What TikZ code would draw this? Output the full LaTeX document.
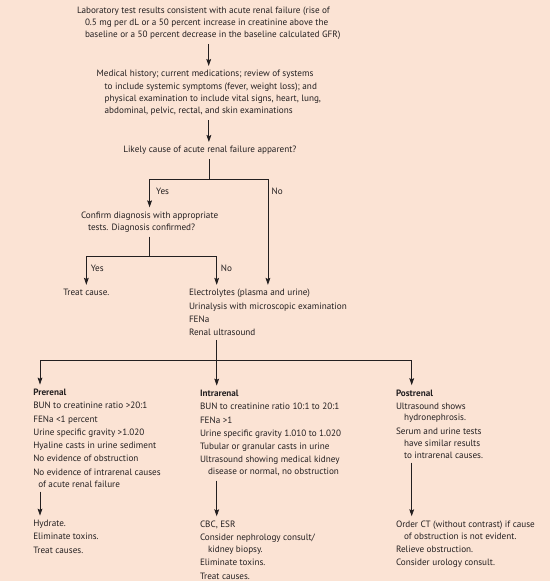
\documentclass[tikz,border=0pt]{standalone}
\usepackage{fontspec}
\setmainfont{PT Sans}
\usetikzlibrary{arrows.meta, positioning}
\definecolor{peach}{RGB}{251,227,212}
\definecolor{ink}{RGB}{35,31,32}

\begin{document}
\begin{tikzpicture}[x=1bp, y=-1bp,
  txt/.style={anchor=base west, inner sep=0pt, outer sep=4.5pt, align=left, text=ink, xshift=-4.5pt},
  top/.style={txt, font=\fontsize{9.2}{12}\selectfont},
  low/.style={txt, font=\fontsize{9.2}{13.3}\selectfont},
  lbl/.style={anchor=base west, inner sep=0pt, text=ink, font=\fontsize{9.2}{12}\selectfont},
  arr/.style={-{Stealth[length=7pt,width=4.8pt,inset=1.2pt]}, line width=0.8pt, draw=ink}]
\fill[peach] (0,0) rectangle (550,581);
\useasboundingbox (0,0) rectangle (550,581);

\node[top] (lab) at (77,37.3) {Laboratory test results consistent with acute renal failure (rise of\\
  \hspace*{8bp}0.5 mg per dL or a 50 percent increase in creatinine above the\\
  \hspace*{8bp}baseline or a 50 percent decrease in the baseline calculated GFR)};
\node[top, font=\fontsize{9.2}{12.3}\selectfont] (hist) at (96.7,113.7) {Medical history; current medications; review of systems\\
  \hspace*{8bp}to include systemic symptoms (fever, weight loss); and\\
  \hspace*{8bp}physical examination to include vital signs, heart, lung,\\
  \hspace*{8bp}abdominal, pelvic, rectal, and skin examinations};
\node[top] (likely) at (123.3,153) {Likely cause of acute renal failure apparent?};
\node[top] (conf) at (81,230.3) {Confirm diagnosis with appropriate\\
  \hspace*{7bp}tests. Diagnosis confirmed?};
\node[top] (treat) at (63.3,295.7) {Treat cause.};
\node[low, font=\fontsize{9.2}{13.2}\selectfont] (elec) at (189,335.3) {Electrolytes (plasma and urine)\\
  Urinalysis with microscopic examination\\
  FENa\\
  Renal ultrasound};

\node[low] (pre) at (33.3,487) {\textbf{Prerenal}\\
  BUN to creatinine ratio >20:1\\
  FENa <1 percent\\
  Urine specific gravity >1.020\\
  Hyaline casts in urine sediment\\
  No evidence of obstruction\\
  No evidence of intrarenal causes\\[-1.3bp]
  \hspace*{5bp}of acute renal failure};
\node[low] (intra) at (200,474.7) {\textbf{Intrarenal}\\
  BUN to creatinine ratio 10:1 to 20:1\\
  FENa >1\\
  Urine specific gravity 1.010 to 1.020\\
  Tubular or granular casts in urine\\
  Ultrasound showing medical kidney\\[-1.3bp]
  \hspace*{8bp}disease or normal, no obstruction};
\node[low] (post) at (396,458) {\textbf{Postrenal}\\
  Ultrasound shows\\[-1.8bp]
  \hspace*{8bp}hydronephrosis.\\
  Serum and urine tests\\[-1.3bp]
  \hspace*{8bp}have similar results\\[-1.3bp]
  \hspace*{8bp}to intrarenal causes.};

\node[low] (hyd) at (33.3,553) {Hydrate.\\
  Eliminate toxins.\\
  Treat causes.};
\node[low] (cbc) at (200,579) {CBC, ESR\\
  Consider nephrology consult/\\[-1.3bp]
  \hspace*{8bp}kidney biopsy.\\
  Eliminate toxins.\\
  Treat causes.};
\node[low] (order) at (396,565.7) {Order CT (without contrast) if cause\\[-1.3bp]
  \hspace*{8bp}of obstruction is not evident.\\
  Relieve obstruction.\\
  Consider urology consult.};

\coordinate (row1) at (0,179.3);
\coordinate (row2) at (0,256.7);
\coordinate (row3) at (0,360.7);
\coordinate (colpre) at (40,0);
\coordinate (spine) at (216.7,0);
\coordinate (colpost) at (411.7,0);

\draw[arr] (lab.south) -- (lab.south |- hist.north);
\draw[arr] (hist.south) -- (hist.south |- likely.north);
\draw[arr] (likely.south) -- (likely.south |- row1) -| (conf.north);
\draw[arr] (likely.south |- row1) -| (elec.north);
\node[lbl] (yes1) at (156,194.7) {Yes};
\node[lbl] (no1) at (271.5,194.7) {No};

\draw[arr] (conf.south) -- (conf.south |- row2) -| (treat.north);
\draw[arr] (conf.south |- row2) -| (elec.north -| spine);
\node[lbl] (yes2) at (90.7,271.7) {Yes};
\node[lbl] (no2) at (220.7,271.7) {No};

\draw[line width=0.8pt, ink] (elec.south -| spine) -- (spine |- row3);
\draw[arr] (spine |- row3) -| (pre.north -| colpre);
\draw[arr] (spine |- row3) -| (post.north -| colpost);
\draw[arr] (spine |- row3) -- (intra.north -| spine);
\draw[arr] (pre.south -| colpre) -- (hyd.north -| colpre);
\draw[arr] (intra.south -| spine) -- (cbc.north -| spine);
\draw[arr] (post.south -| colpost) -- (order.north -| colpost);
\end{tikzpicture}
\end{document}
